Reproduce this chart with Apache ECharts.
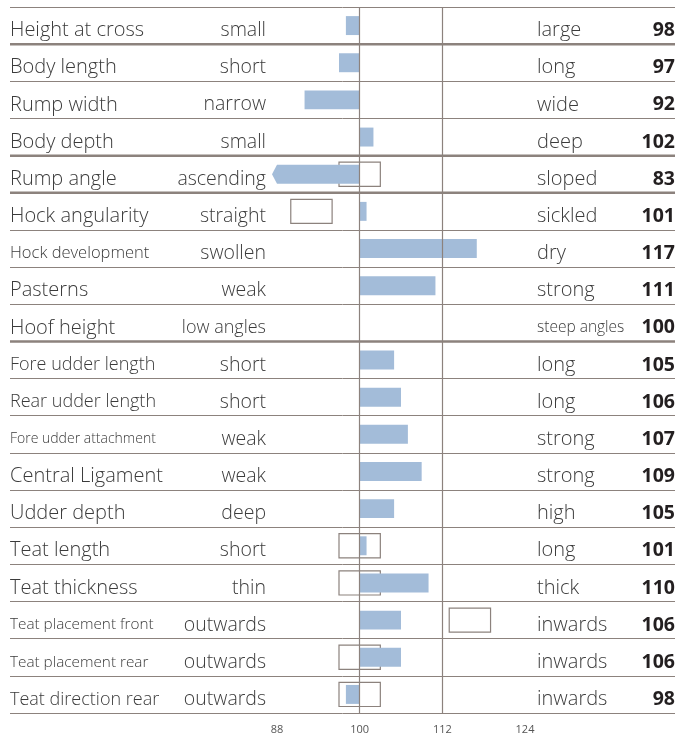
<!DOCTYPE html>
<html>
<head>
<meta charset="utf-8">
<script src="https://cdn.jsdelivr.net/npm/echarts@6/dist/echarts.min.js"></script>
<style>
  html, body { margin: 0; padding: 0; background: #fff; }
  #chart { width: 693px; height: 738px; }
</style>
</head>
<body>
<div id="chart"></div>
<script>
// trait rows, top to bottom
const traits = ['Height at cross', 'Body length', 'Rump width', 'Body depth', 'Rump angle',
  'Hock angularity', 'Hock development', 'Pasterns', 'Hoof height', 'Fore udder length',
  'Rear udder length', 'Fore udder attachment', 'Central Ligament', 'Udder depth', 'Teat length',
  'Teat thickness', 'Teat placement front', 'Teat placement rear', 'Teat direction rear'];
const lowLabels = ['small', 'short', 'narrow', 'small', 'ascending', 'straight', 'swollen', 'weak',
  'low angles', 'short', 'short', 'weak', 'weak', 'deep', 'short', 'thin', 'outwards', 'outwards', 'outwards'];
const highLabels = ['large', 'long', 'wide', 'deep', 'sloped', 'sickled', 'dry', 'strong',
  'steep angles', 'long', 'long', 'strong', 'strong', 'high', 'long', 'thick', 'inwards', 'inwards', 'inwards'];
const values = [98, 97, 92, 102, 83, 101, 117, 111, 100, 105, 106, 107, 109, 105, 101, 110, 106, 106, 98];

// optimum range boxes
const optTraits = ['Rump angle', 'Hock angularity', 'Teat length', 'Teat thickness',
  'Teat placement front', 'Teat placement rear', 'Teat direction rear'];
const optLow = [97, 90, 97, 97, 113, 97, 97];
const optHigh = [103, 96, 103, 103, 119, 103, 103];

const ticks = [88, 100, 112, 124];
const refLines = [100, 112];
const baseValue = 100;
// rows after which a heavier rule is drawn
const groupEnds = [1, 4, 5, 9];

const lineColor = '#8c827d';
const textColor = '#3b3b3b';
const barColor = '#a3bcd9';
const font = 'Open Sans';

// type size per trait name (default n)
const nameStyle = {
  'Hock development': 'n16',
  'Fore udder length': 'n18',
  'Rear udder length': 'n18',
  'Fore udder attachment': 'n14',
  'Teat placement front': 'n15',
  'Teat placement rear': 'n15',
  'Teat direction rear': 'n18'
};
const lowStyle = { 'low angles': 'd18' };
const highStyle = { 'steep angles': 'h15' };

const chart = echarts.init(document.getElementById('chart'));

function tok(size, width, align, weight) {
  return { fontFamily: font, fontSize: size, color: textColor, width: width, align: align, fontWeight: weight || 300 };
}

const option = {
  animation: false,
  backgroundColor: '#fff',
  grid: [
    { left: 10, right: 18, top: 7, bottom: 25 },
    { left: 277, right: 168, top: 7, bottom: 25 }
  ],
  xAxis: [
    { gridIndex: 0, type: 'value', min: 0, max: 1, show: false },
    {
      gridIndex: 1, type: 'value',
      min: ticks[0], max: ticks[ticks.length - 1], interval: ticks[1] - ticks[0],
      axisLine: { show: false }, axisTick: { show: false }, splitLine: { show: false },
      axisLabel: { color: '#555', fontSize: 11, fontFamily: font, margin: 11 }
    }
  ],
  yAxis: [
    {
      gridIndex: 0, type: 'value', min: 0, max: traits.length, interval: 1, inverse: true,
      axisLine: { show: false }, axisTick: { show: false }, axisLabel: { show: false },
      splitLine: { show: true, lineStyle: { color: lineColor, width: 1 } }
    },
    {
      gridIndex: 1, type: 'category', data: traits, inverse: true, position: 'left',
      axisLine: { show: false }, axisTick: { show: false }, splitLine: { show: false },
      axisLabel: {
        margin: 11, padding: [10, 0, 0, 0],
        formatter: (v, i) => `{${nameStyle[v] || 'n'}|${v}}{${lowStyle[lowLabels[i]] || 'd'}|${lowLabels[i]}}`,
        rich: {
          n: tok(20, 150, 'left'), n18: tok(18, 150, 'left'), n16: tok(16.5, 150, 'left'),
          n15: tok(15.3, 150, 'left'), n14: tok(14, 150, 'left'),
          d: tok(19.5, 106, 'right'), d18: tok(18, 106, 'right')
        }
      }
    },
    {
      gridIndex: 1, type: 'category', data: traits, inverse: true, position: 'right',
      axisLine: { show: false }, axisTick: { show: false }, splitLine: { show: false },
      axisLabel: {
        margin: 12, padding: [10, 0, 0, 0],
        formatter: (v, i) => `{${highStyle[highLabels[i]] || 'h'}|${highLabels[i]}}{v|${values[i]}}`,
        rich: {
          h: tok(20, 100, 'left'), h15: tok(15.5, 100, 'left'),
          v: Object.assign(tok(19.5, 38, 'right', 'bold'), { color: '#231f20' })
        }
      }
    }
  ],
  series: [
    {
      // heavier group rules
      type: 'custom', xAxisIndex: 0, yAxisIndex: 0, silent: true,
      data: groupEnds.map(r => [0, r]),
      renderItem: (params, api) => {
        const cs = params.coordSys;
        const y = api.coord([0, api.value(1)])[1];
        return {
          type: 'line',
          shape: { x1: cs.x, y1: y, x2: cs.x + cs.width, y2: y },
          style: { stroke: lineColor, lineWidth: 2.5 }
        };
      }
    },
    {
      // optimum range boxes
      type: 'custom', xAxisIndex: 1, yAxisIndex: 1, silent: true,
      data: optTraits.map((t, i) => [optLow[i], optHigh[i], t]),
      encode: { x: [0, 1], y: 2 },
      renderItem: (params, api) => {
        const p0 = api.coord([api.value(0), api.value(2)]);
        const p1 = api.coord([api.value(1), api.value(2)]);
        const h = api.size([0, 1])[1] * 0.65;
        return {
          type: 'rect',
          shape: { x: p0[0], y: p0[1] - h / 2, width: p1[0] - p0[0], height: h },
          style: { fill: 'none', stroke: lineColor, lineWidth: 1.2 }
        };
      }
    },
    {
      // value bars from the base line
      type: 'custom', xAxisIndex: 1, yAxisIndex: 1, silent: true, clip: false,
      data: values.map((v, i) => [v, traits[i]]),
      encode: { x: 0, y: 1 },
      renderItem: (params, api) => {
        const v = api.value(0);
        const row = api.value(1);
        const base = api.coord([baseValue, row]);
        const h = api.size([0, 1])[1] * 0.51;
        const top = base[1] - h / 2, bot = base[1] + h / 2;
        if (v < ticks[0]) {
          const xm = api.coord([ticks[0], row])[0];
          return {
            type: 'polygon',
            shape: { points: [[base[0], top], [xm, top], [xm - 5, base[1]], [xm, bot], [base[0], bot]] },
            style: { fill: barColor }
          };
        }
        const end = api.coord([v, row]);
        return {
          type: 'rect',
          shape: { x: Math.min(base[0], end[0]), y: top, width: Math.abs(end[0] - base[0]), height: h },
          style: { fill: barColor }
        };
      },
      markLine: {
        silent: true, symbol: 'none', label: { show: false },
        lineStyle: { color: lineColor, width: 1.2, type: 'solid' },
        data: refLines.map(x => ({ xAxis: x }))
      }
    }
  ]
};

chart.setOption(option);
</script>
</body>
</html>
